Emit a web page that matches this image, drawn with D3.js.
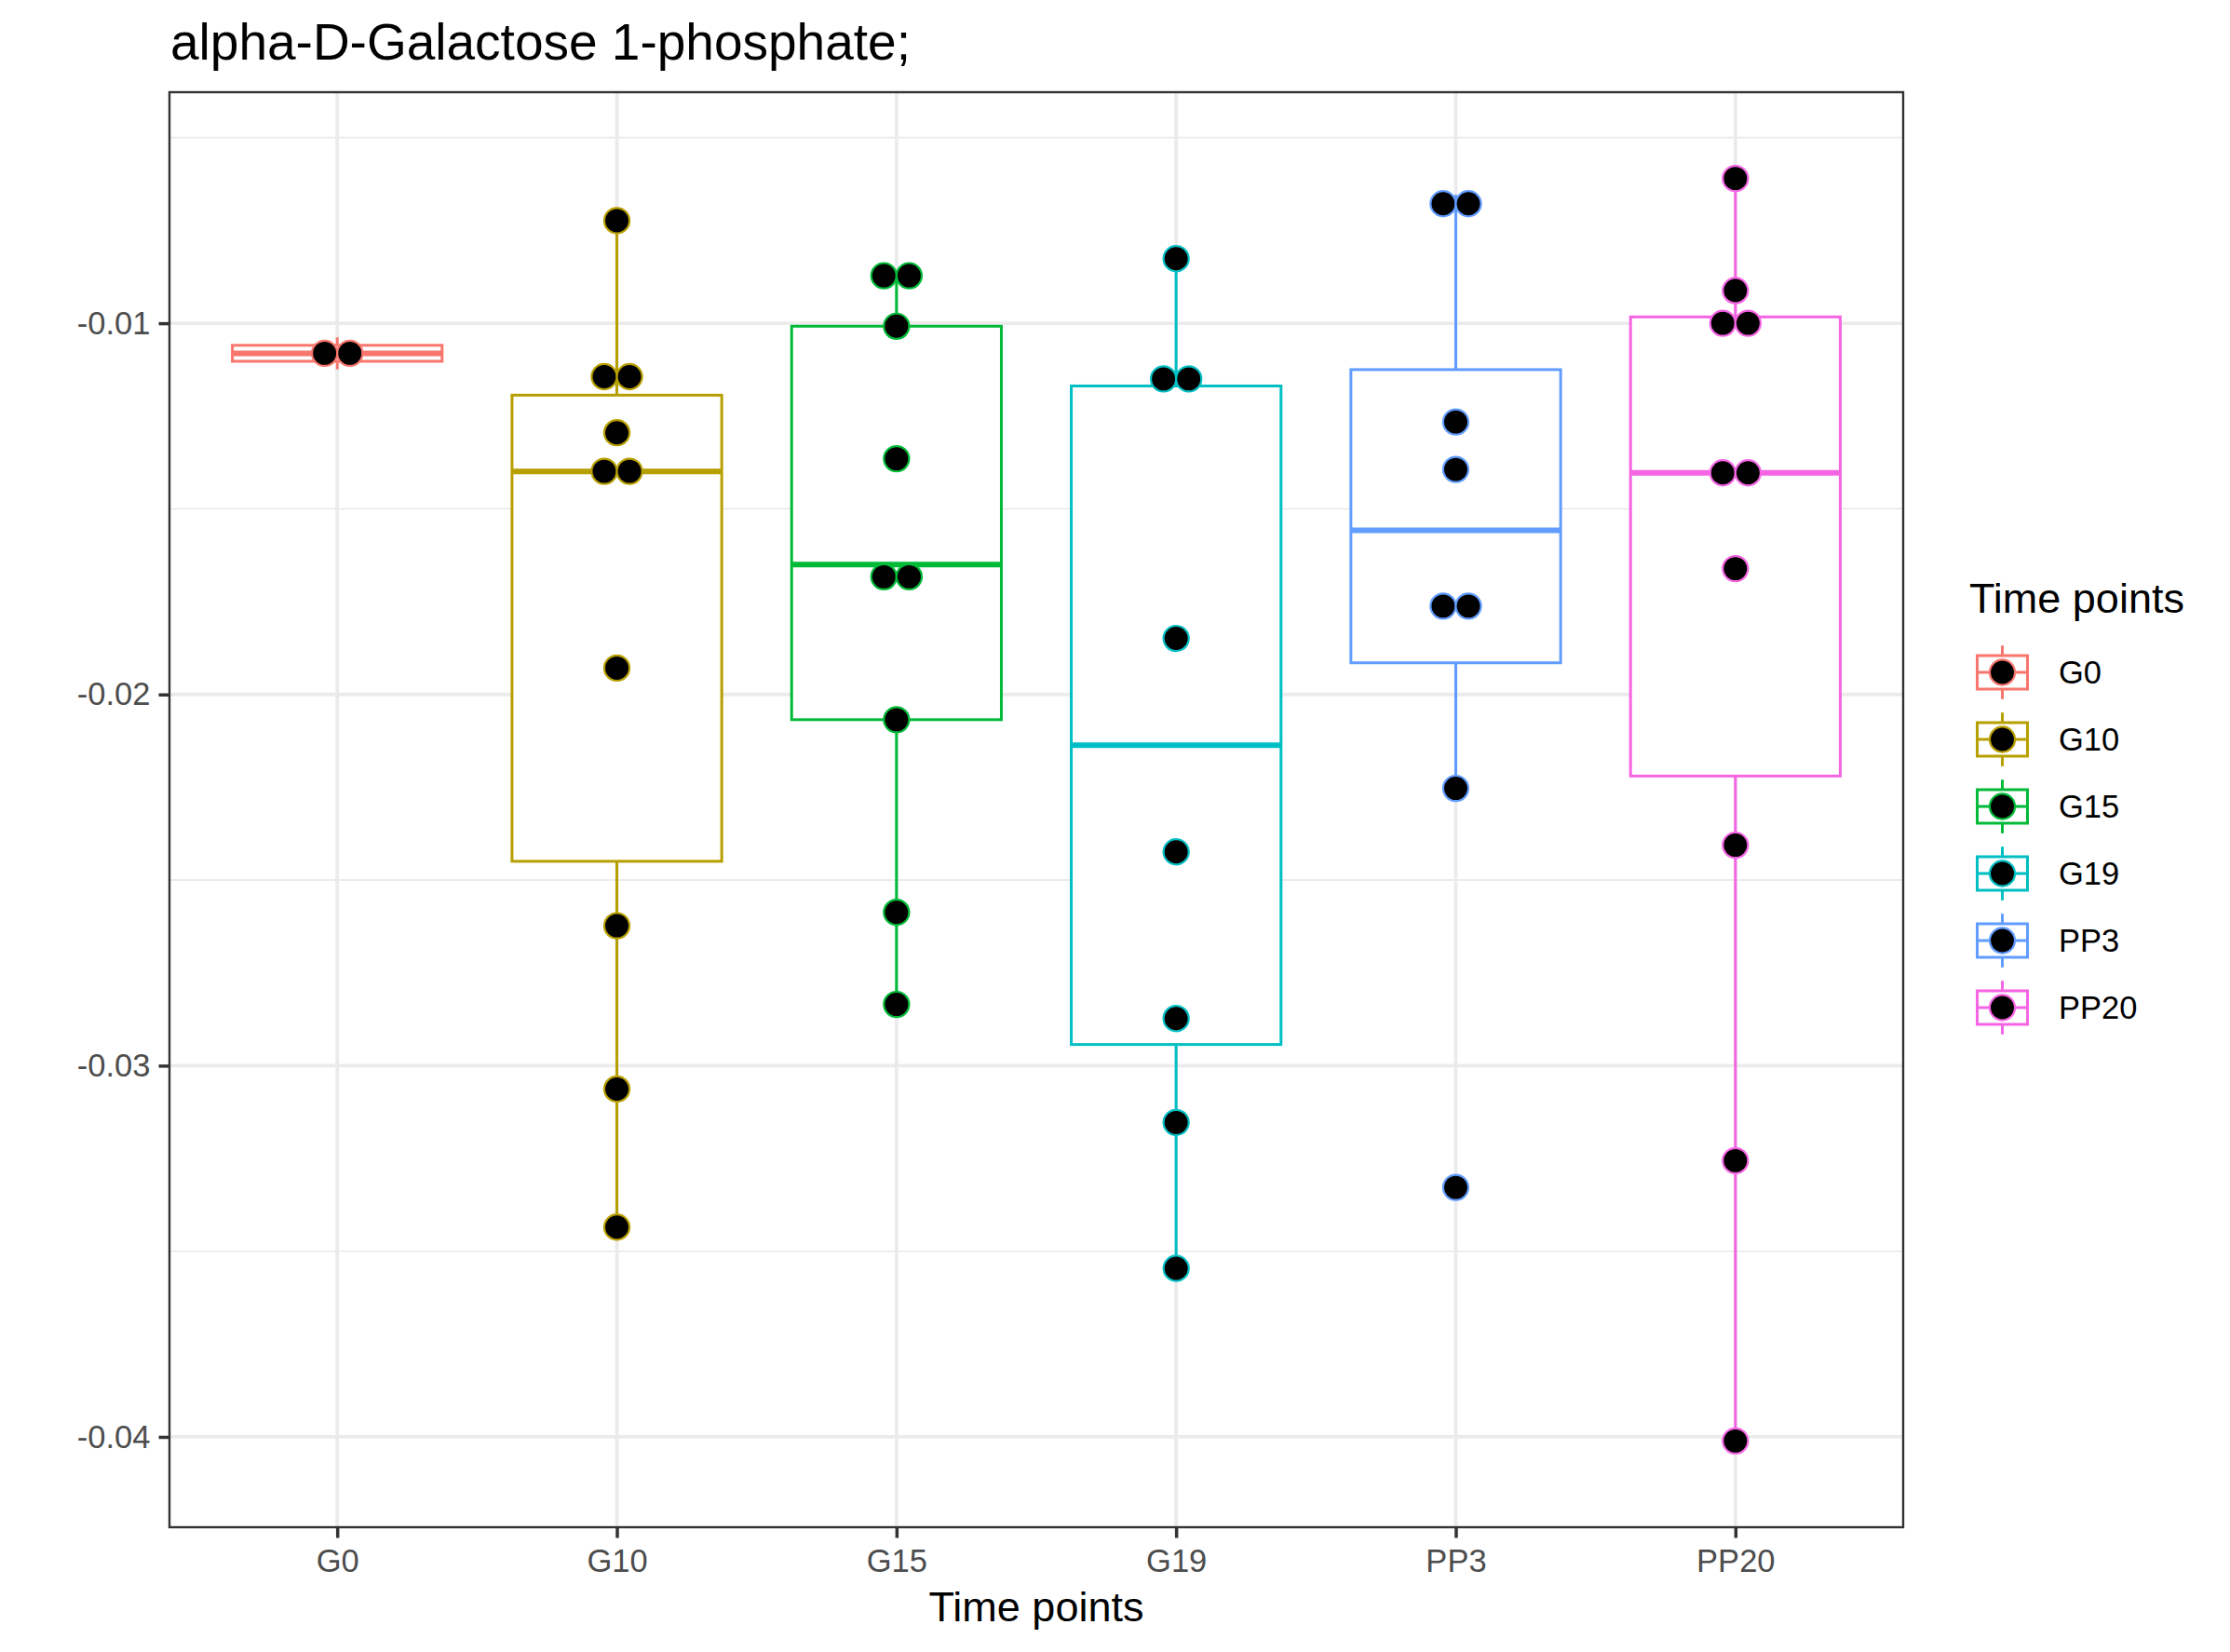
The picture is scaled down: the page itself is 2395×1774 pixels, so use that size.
<!DOCTYPE html>
<html><head><meta charset="utf-8">
<script src="https://cdn.jsdelivr.net/npm/d3@7"></script>
<style>html,body{margin:0;padding:0;background:#fff;} svg{display:block;}</style>
</head><body>
<script>
// ---------- data ----------
const categories = ["G0", "G10", "G15", "G19", "PP3", "PP20"];
const palette = ["#F8766D", "#B79F00", "#00BA38", "#00BFC4", "#619CFF", "#F564E3"];
const valuesG0 = [-0.01038, -0.01124];
const valuesG10 = [-0.007236, -0.01128, -0.0116, -0.01295, -0.01383, -0.01415, -0.01929, -0.02623, -0.03063, -0.03435];
const valuesG15 = [-0.00859, -0.00885, -0.01008, -0.01365, -0.01650, -0.01716, -0.02068, -0.02587, -0.02835];
const valuesG19 = [-0.00826, -0.01112, -0.01188, -0.01849, -0.02424, -0.02873, -0.03153, -0.03546];
const valuesPP3 = [-0.00654, -0.00702, -0.01266, -0.01394, -0.01722, -0.01802, -0.02253, -0.03328];
const valuesPP20 = [-0.0061, -0.00912, -0.00966, -0.01034, -0.01386, -0.0142, -0.01661, -0.02406, -0.03256, -0.04011];
const yTickValues = [-0.04, -0.03, -0.02, -0.01];
const yTickLabels = ["-0.04", "-0.03", "-0.02", "-0.01"];
const yMinorValues = [-0.035, -0.025, -0.015, -0.005];
const titleText = "alpha-D-Galactose 1-phosphate;";
const xTitleText = "Time points";
const legendTitleText = "Time points";

const groups = [valuesG0, valuesG10, valuesG15, valuesG19, valuesPP3, valuesPP20];

// ---------- layout ----------
const W = 2395, H = 1774;
const P = {left: 182, right: 2044, top: 99, bottom: 1640};
const FONT = "'Liberation Sans', Arial, Helvetica, sans-serif";
const boxWidthFrac = 0.75, dotsize = 0.6;

const all = groups.flat();
const dmin = d3.min(all), dmax = d3.max(all);
const binwidth = (dmax - dmin) / 30;
const lo = dmin - binwidth / 2, hi = dmax + binwidth / 2;
const pad = (hi - lo) * 0.05;

const y = d3.scaleLinear().domain([lo - pad, hi + pad]).range([P.bottom, P.top]);
const x = d3.scalePoint().domain(categories).range([P.left, P.right]).padding(0.6);
const step = x.step();
const pxPerUnit = (P.bottom - P.top) / (hi - lo + 2 * pad);
const dotD = dotsize * binwidth * pxPerUnit;

const svg = d3.select("body").append("svg").attr("width", W).attr("height", H)
  .style("font-family", FONT);
svg.append("rect").attr("width", W).attr("height", H).attr("fill", "#fff");

// grid
const grid = svg.append("g");
grid.selectAll("line.minor").data(yMinorValues).join("line")
  .attr("x1", P.left).attr("x2", P.right).attr("y1", d => y(d)).attr("y2", d => y(d))
  .attr("stroke", "#EBEBEB").attr("stroke-width", 1.9);
grid.selectAll("line.major").data(yTickValues).join("line")
  .attr("x1", P.left).attr("x2", P.right).attr("y1", d => y(d)).attr("y2", d => y(d))
  .attr("stroke", "#EBEBEB").attr("stroke-width", 3.8);
grid.selectAll("line.vx").data(categories).join("line")
  .attr("x1", d => x(d)).attr("x2", d => x(d)).attr("y1", P.top).attr("y2", P.bottom)
  .attr("stroke", "#EBEBEB").attr("stroke-width", 3.8);

// stats
function boxStats(vals) {
  const s = vals.slice().sort(d3.ascending);
  const q1 = d3.quantileSorted(s, 0.25), med = d3.quantileSorted(s, 0.5), q3 = d3.quantileSorted(s, 0.75);
  const iqr = q3 - q1;
  const inside = s.filter(v => v >= q1 - 1.5 * iqr && v <= q3 + 1.5 * iqr);
  return {q1, med, q3, wlo: d3.min(inside), whi: d3.max(inside)};
}
function dotBins(vals, bw) {
  const s = vals.slice().sort(d3.ascending);
  const bins = []; let end = -Infinity, cur = null;
  for (const v of s) {
    if (v >= end) { cur = {vals: []}; bins.push(cur); end = v + bw; }
    cur.vals.push(v);
  }
  bins.forEach(b => b.center = (d3.min(b.vals) + d3.max(b.vals)) / 2);
  return bins;
}

// boxplots
const boxes = svg.append("g");
groups.forEach((vals, i) => {
  const st = boxStats(vals), cx = x(categories[i]), col = palette[i], hw = step * boxWidthFrac / 2;
  const g = boxes.append("g");
  g.append("line").attr("x1", cx).attr("x2", cx).attr("y1", y(st.q3)).attr("y2", y(st.whi))
    .attr("stroke", col).attr("stroke-width", 3);
  g.append("line").attr("x1", cx).attr("x2", cx).attr("y1", y(st.q1)).attr("y2", y(st.wlo))
    .attr("stroke", col).attr("stroke-width", 3);
  g.append("rect").attr("x", cx - hw).attr("width", 2 * hw)
    .attr("y", y(st.q3)).attr("height", y(st.q1) - y(st.q3))
    .attr("fill", "#fff").attr("stroke", col).attr("stroke-width", 3);
  g.append("line").attr("x1", cx - hw).attr("x2", cx + hw).attr("y1", y(st.med)).attr("y2", y(st.med))
    .attr("stroke", col).attr("stroke-width", 6);
});

// dots
const dots = svg.append("g");
groups.forEach((vals, i) => {
  const cx = x(categories[i]), col = palette[i];
  dotBins(vals, binwidth).forEach(b => {
    const n = b.vals.length;
    b.vals.forEach((v, k) => {
      dots.append("circle").attr("cx", cx + (k - (n - 1) / 2) * dotD).attr("cy", y(b.center))
        .attr("r", dotD / 2).attr("fill", "#000").attr("stroke", col).attr("stroke-width", 2.2);
    });
  });
});

// border
svg.append("rect").attr("x", P.left).attr("y", P.top).attr("width", P.right - P.left)
  .attr("height", P.bottom - P.top).attr("fill", "none").attr("stroke", "#333333").attr("stroke-width", 2.4);

// axes
const yAxis = svg.append("g").attr("transform", `translate(${P.left},0)`)
  .call(d3.axisLeft(y).tickValues(yTickValues).tickFormat((d, i) => yTickLabels[i]).tickSize(11.5).tickPadding(9));
const xAxis = svg.append("g").attr("transform", `translate(0,${P.bottom})`)
  .call(d3.axisBottom(x).tickSize(11.5).tickPadding(12));
[yAxis, xAxis].forEach(a => {
  a.select(".domain").remove();
  a.selectAll(".tick line").attr("stroke", "#333333").attr("stroke-width", 3.5);
  a.selectAll(".tick text").attr("fill", "#4D4D4D").style("font-size", "34.5px").style("font-family", FONT);
});

// titles
svg.append("text").attr("x", 183).attr("y", 64).text(titleText)
  .style("font-size", "55px").attr("fill", "#000");
svg.append("text").attr("x", (P.left + P.right) / 2).attr("y", 1741).attr("text-anchor", "middle")
  .text(xTitleText).style("font-size", "45px").attr("fill", "#000");

// legend
const leg = svg.append("g");
leg.append("text").attr("x", 2115).attr("y", 658).text(legendTitleText).style("font-size", "45px").attr("fill", "#000");
const ks = 72, kcx = 2150.5;
categories.forEach((c, i) => {
  const cy = 722 + ks * i, col = palette[i];
  const g = leg.append("g");
  g.append("line").attr("x1", kcx).attr("x2", kcx).attr("y1", cy - 0.4 * ks).attr("y2", cy - 0.25 * ks).attr("stroke", col).attr("stroke-width", 3);
  g.append("line").attr("x1", kcx).attr("x2", kcx).attr("y1", cy + 0.25 * ks).attr("y2", cy + 0.4 * ks).attr("stroke", col).attr("stroke-width", 3);
  g.append("rect").attr("x", kcx - 0.375 * ks).attr("width", 0.75 * ks).attr("y", cy - 0.25 * ks).attr("height", 0.5 * ks)
    .attr("fill", "#fff").attr("stroke", col).attr("stroke-width", 3);
  g.append("line").attr("x1", kcx - 0.375 * ks).attr("x2", kcx + 0.375 * ks).attr("y1", cy).attr("y2", cy).attr("stroke", col).attr("stroke-width", 3);
  g.append("circle").attr("cx", kcx).attr("cy", cy).attr("r", dotD / 2).attr("fill", "#000").attr("stroke", col).attr("stroke-width", 2.2);
  g.append("text").attr("x", 2211).attr("y", cy + 12.3).text(c).style("font-size", "34.5px").attr("fill", "#000");
});
</script>
</body></html>
